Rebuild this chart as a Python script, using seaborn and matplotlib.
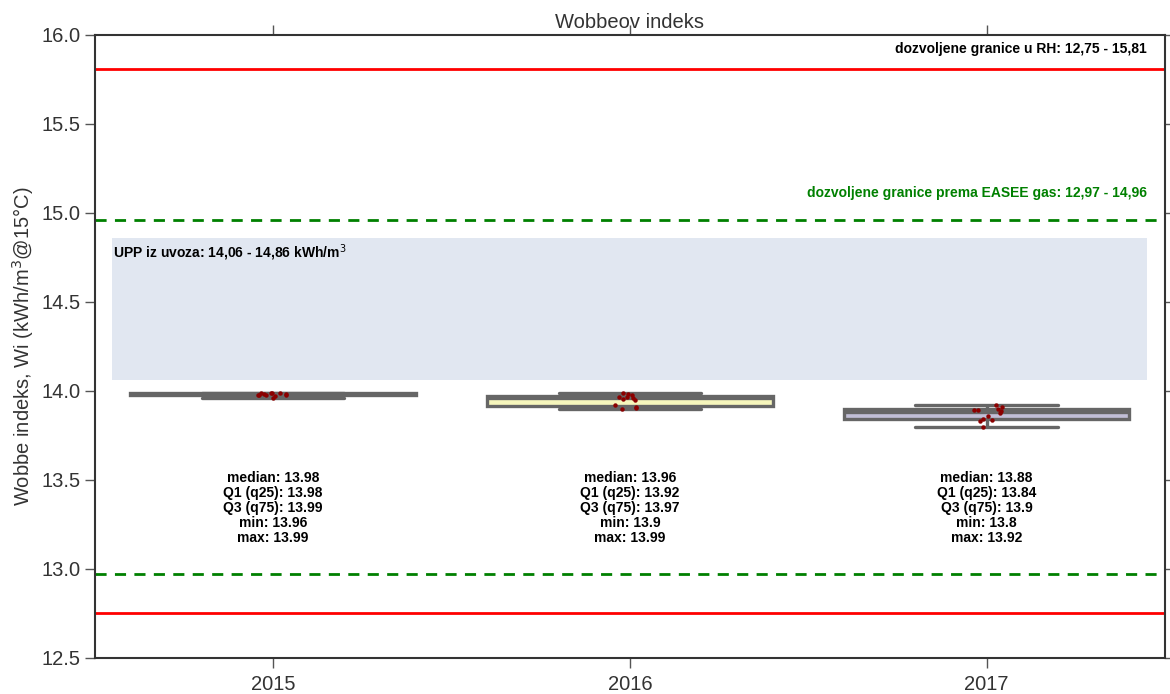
import numpy as np
import pandas as pd
import matplotlib
matplotlib.use("Agg")
import matplotlib.pyplot as plt
import seaborn as sns

# Wobbe index measurements per year (kWh/m3 @ 15°C)
years = ["2015", "2016", "2017"]
wi_2015 = [13.972, 13.987, 13.978, 13.96, 13.984, 13.975, 13.99, 13.981, 13.977, 13.988, 13.979, 13.986]
wi_2016 = [13.95, 13.99, 13.905, 13.962, 13.92, 13.975, 13.90, 13.968, 13.955, 13.91, 13.98, 13.965]
wi_2017 = [13.86, 13.92, 13.83, 13.895, 13.80, 13.885, 13.91, 13.835, 13.875, 13.90, 13.845, 13.89]

# Limits
rh_limits = (12.75, 15.81)
easee_limits = (12.97, 14.96)
upp_range = (14.06, 14.86)

df = pd.DataFrame({
    "year": np.repeat(years, [len(wi_2015), len(wi_2016), len(wi_2017)]),
    "wi": wi_2015 + wi_2016 + wi_2017,
})

sns.set_theme(style="ticks")
plt.rcParams["font.family"] = ["Liberation Sans", "DejaVu Sans"]

fig = plt.figure(figsize=(11.7, 6.94), dpi=100)
ax = fig.add_axes([0.081, 0.052, 0.9147, 0.8977])

palette = sns.color_palette("Set3", 3)
sns.boxplot(data=df, x="year", y="wi", hue="year", palette=palette, legend=False,
            width=0.8, whis=(0, 100), linecolor="#666666", linewidth=2.4,
            showfliers=False, ax=ax, zorder=3)
np.random.seed(3)
sns.stripplot(data=df, x="year", y="wi", color="#8b0000", size=3.2, jitter=0.045,
              ax=ax, zorder=4)

# Regulatory limits
for v in rh_limits:
    ax.axhline(v, color="#ff0000", lw=2.0, zorder=2)
for v in easee_limits:
    ax.axhline(v, color="#008000", lw=2.0, ls=(0, (4, 3)), zorder=2)
ax.axhspan(upp_range[0], upp_range[1], xmin=0.016, xmax=0.983,
           color="#e1e7f1", lw=0, zorder=1)

ax.text(0.983, 15.92, "dozvoljene granice u RH: 12,75 - 15,81", transform=ax.get_yaxis_transform(),
        ha="right", va="center", fontsize=10, fontweight="bold", color="black")
ax.text(0.983, 15.11, "dozvoljene granice prema EASEE gas: 12,97 - 14,96",
        transform=ax.get_yaxis_transform(), ha="right", va="center",
        fontsize=10, fontweight="bold", color="#008000")
ax.text(0.017, 14.835, "UPP iz uvoza: 14,06 - 14,86 kWh/m$^3$", transform=ax.get_yaxis_transform(),
        ha="left", va="top", fontsize=10, fontweight="bold", color="black")

# Summary statistics under each box
for i, y in enumerate(years):
    vals = pd.Series(df.loc[df["year"] == y, "wi"].values)
    txt = (f"median: {round(vals.median(), 2)}\n"
           f"Q1 (q25): {round(vals.quantile(0.25), 2)}\n"
           f"Q3 (q75): {round(vals.quantile(0.75), 2)}\n"
           f"min: {round(vals.min(), 2)}\n"
           f"max: {round(vals.max(), 2)}")
    ax.text(i, 13.55, txt, ha="center", va="top", fontsize=10, fontweight="bold",
            linespacing=1.1, multialignment="center", color="black")

ax.set_xlim(-0.5, 2.5)
ax.set_ylim(12.5, 16.0)
ax.set_yticks(np.arange(12.5, 16.01, 0.5))
ax.set_xlabel("")
ax.set_ylabel("Wobbe indeks, Wi (kWh/m$^3$@15°C)", fontsize=14.5, color="#333333", labelpad=4)
ax.set_title("Wobbeov indeks", fontsize=14.5, pad=5, color="#333333")

for s in ax.spines.values():
    s.set_visible(True)
    s.set_color("#333333")
    s.set_linewidth(1.5)
ax.tick_params(axis="both", which="both", direction="out", length=7, width=1,
               color="#555555", labelsize=14.5, labelcolor="#333333",
               top=True, right=True, labeltop=False, labelright=False)
ax.tick_params(axis="x", pad=5)

fig.savefig("out.png", dpi=100)
